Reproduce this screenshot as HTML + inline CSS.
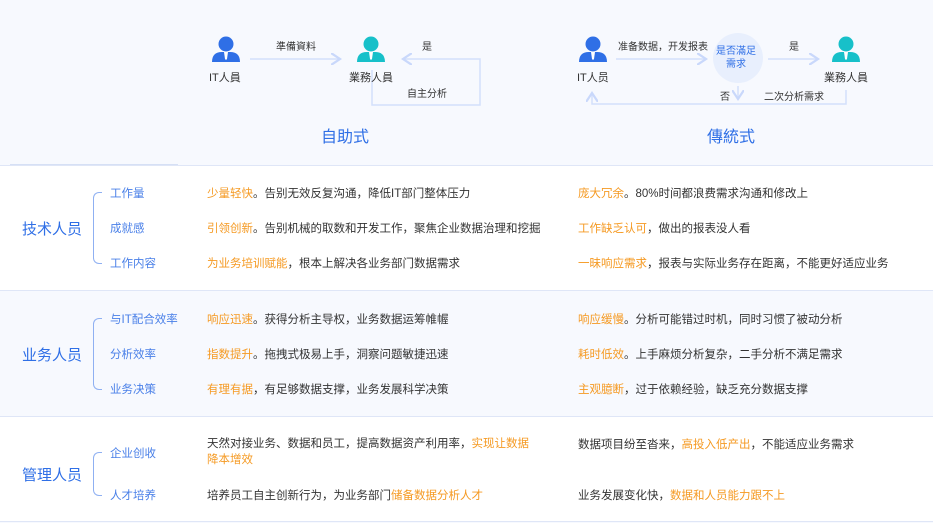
<!DOCTYPE html><html><head><meta charset="utf-8"><style>
body{margin:0;width:933px;height:523px;position:relative;background:#f7f9fe;font-family:"Liberation Sans","Noto Sans CJK SC",sans-serif;overflow:hidden}
.a{position:absolute;white-space:nowrap}
.band{position:absolute;left:0;width:933px;border-top:1px solid #dfe6f7}
.L{font-size:15px;color:#2f6fe6}
.S{font-size:11.5px;color:#4a80e8}
.T{font-size:11.5px;color:#333}
.o{color:#f59a23}
.sm{font-size:10px;color:#333}
.br{position:absolute;left:93px;width:8px;border:1.5px solid #8fb0f2;border-right:none;border-radius:6px 0 0 6px}
</style></head><body>
<svg class="a" style="left:0;top:0" width="933" height="165">
<defs><marker id="m" markerWidth="8" markerHeight="8" refX="6" refY="4" orient="auto"><path d="M0,0 L6,4 L0,8" fill="none" stroke="#c9d8fb" stroke-width="1.5"/></marker></defs>
<g fill="#2f6fe6"><circle cx="226" cy="44" r="7.5"/><path d="M212,62 Q212,52 222,52 L230,52 Q240,52 240,62 Z"/><path d="M224,52 L228,52 L227,59 L226,60 L225,59Z" fill="#fff"/></g>
<g fill="#17c0c9"><circle cx="371" cy="44" r="7.5"/><path d="M357,62 Q357,52 367,52 L375,52 Q385,52 385,62 Z"/><path d="M369,52 L373,52 L372,59 L371,60 L370,59Z" fill="#fff"/></g>
<g fill="#2f6fe6"><circle cx="593" cy="44" r="7.5"/><path d="M579,62 Q579,52 589,52 L597,52 Q607,52 607,62 Z"/><path d="M591,52 L595,52 L594,59 L593,60 L592,59Z" fill="#fff"/></g>
<g fill="#17c0c9"><circle cx="846" cy="44" r="7.5"/><path d="M832,62 Q832,52 842,52 L850,52 Q860,52 860,62 Z"/><path d="M844,52 L848,52 L847,59 L846,60 L845,59Z" fill="#fff"/></g>
<g stroke="#d3e0fb" stroke-width="1.5" fill="none">
<line x1="250" y1="59" x2="340" y2="59" marker-end="url(#m)"/>
<polyline points="372,70 372,105 480,105 480,59 403,59" marker-end="url(#m)"/>
<line x1="616" y1="59" x2="706" y2="59" marker-end="url(#m)"/>
<line x1="768" y1="59" x2="818" y2="59" marker-end="url(#m)"/>
<line x1="738" y1="86" x2="738" y2="99" marker-end="url(#m)"/>
<polyline points="846,90 846,104 592,104 592,93" marker-end="url(#m)"/>
</g>
<circle cx="738" cy="58" r="25" fill="#e8effd"/>
<line x1="10" y1="164.5" x2="178" y2="164.5" stroke="#d6e0f5" stroke-width="1"/>
</svg>
<div class="a sm" style="left:276px;top:38px">準備資料</div>
<div class="a sm" style="left:422px;top:38px">是</div>
<div class="a sm" style="left:407px;top:85px">自主分析</div>
<div class="a sm" style="left:209px;top:69px;font-size:11px">IT人員</div>
<div class="a sm" style="left:349px;top:69px;font-size:11px">業務人員</div>
<div class="a sm" style="left:618px;top:38px">准备数据，开发报表</div>
<div class="a" style="left:716px;top:45px;font-size:10px;color:#2f6fe6;text-align:center;line-height:13px">是否滿足<br>需求</div>
<div class="a sm" style="left:789px;top:38px">是</div>
<div class="a sm" style="left:720px;top:88px">否</div>
<div class="a sm" style="left:764px;top:88px">二次分析需求</div>
<div class="a sm" style="left:577px;top:69px;font-size:11px">IT人员</div>
<div class="a sm" style="left:824px;top:69px;font-size:11px">業務人員</div>
<div class="a" style="left:321px;top:123px;font-size:16px;color:#2f6fe6">自助式</div>
<div class="a" style="left:707px;top:123px;font-size:16px;color:#2f6fe6">傳統式</div>
<div class="band" style="top:165px;height:125px;background:#fff"></div>
<div class="band" style="top:290px;height:125px;background:#f7f9fe"></div>
<div class="band" style="top:416px;height:104px;background:#fff;border-bottom:1px solid #dfe6f7"></div>
<div class="br" style="top:192px;height:70px"></div>
<div class="br" style="top:318px;height:70px"></div>
<div class="br" style="top:452px;height:42px"></div>
<div class="a L" style="left:22px;top:218px">技术人员</div>
<div class="a L" style="left:22px;top:344px">业务人员</div>
<div class="a L" style="left:22px;top:464px">管理人员</div>
<div class="a S" style="left:110px;top:185px">工作量</div>
<div class="a S" style="left:110px;top:220px">成就感</div>
<div class="a S" style="left:110px;top:255px">工作内容</div>
<div class="a S" style="left:110px;top:311px">与IT配合效率</div>
<div class="a S" style="left:110px;top:346px">分析效率</div>
<div class="a S" style="left:110px;top:381px">业务决策</div>
<div class="a S" style="left:110px;top:445px">企业创收</div>
<div class="a S" style="left:110px;top:487px">人才培养</div>
<div class="a T" style="left:207px;top:185px"><span class="o">少量轻快</span>。告别无效反复沟通，降低IT部门整体压力</div>
<div class="a T" style="left:207px;top:220px"><span class="o">引领创新</span>。告别机械的取数和开发工作，聚焦企业数据治理和挖掘</div>
<div class="a T" style="left:207px;top:255px"><span class="o">为业务培训赋能</span>，根本上解决各业务部门数据需求</div>
<div class="a T" style="left:207px;top:311px"><span class="o">响应迅速</span>。获得分析主导权，业务数据运筹帷幄</div>
<div class="a T" style="left:207px;top:346px"><span class="o">指数提升</span>。拖拽式极易上手，洞察问题敏捷迅速</div>
<div class="a T" style="left:207px;top:381px"><span class="o">有理有据</span>，有足够数据支撑，业务发展科学决策</div>
<div class="a T" style="left:207px;top:436px;line-height:16px">天然对接业务、数据和员工，提高数据资产利用率，<span class="o">实现让数据</span><br><span class="o">降本增效</span></div>
<div class="a T" style="left:207px;top:487px">培养员工自主创新行为，为业务部门<span class="o">储备数据分析人才</span></div>
<div class="a T" style="left:578px;top:185px"><span class="o">庞大冗余</span>。80%时间都浪费需求沟通和修改上</div>
<div class="a T" style="left:578px;top:220px"><span class="o">工作缺乏认可</span>，做出的报表没人看</div>
<div class="a T" style="left:578px;top:255px"><span class="o">一昧响应需求</span>，报表与实际业务存在距离，不能更好适应业务</div>
<div class="a T" style="left:578px;top:311px"><span class="o">响应缓慢</span>。分析可能错过时机，同时习惯了被动分析</div>
<div class="a T" style="left:578px;top:346px"><span class="o">耗时低效</span>。上手麻烦分析复杂，二手分析不满足需求</div>
<div class="a T" style="left:578px;top:381px"><span class="o">主观臆断</span>，过于依赖经验，缺乏充分数据支撑</div>
<div class="a T" style="left:578px;top:436px">数据项目纷至沓来，<span class="o">高投入低产出</span>，不能适应业务需求</div>
<div class="a T" style="left:578px;top:487px">业务发展变化快，<span class="o">数据和人员能力跟不上</span></div>
</body></html>
